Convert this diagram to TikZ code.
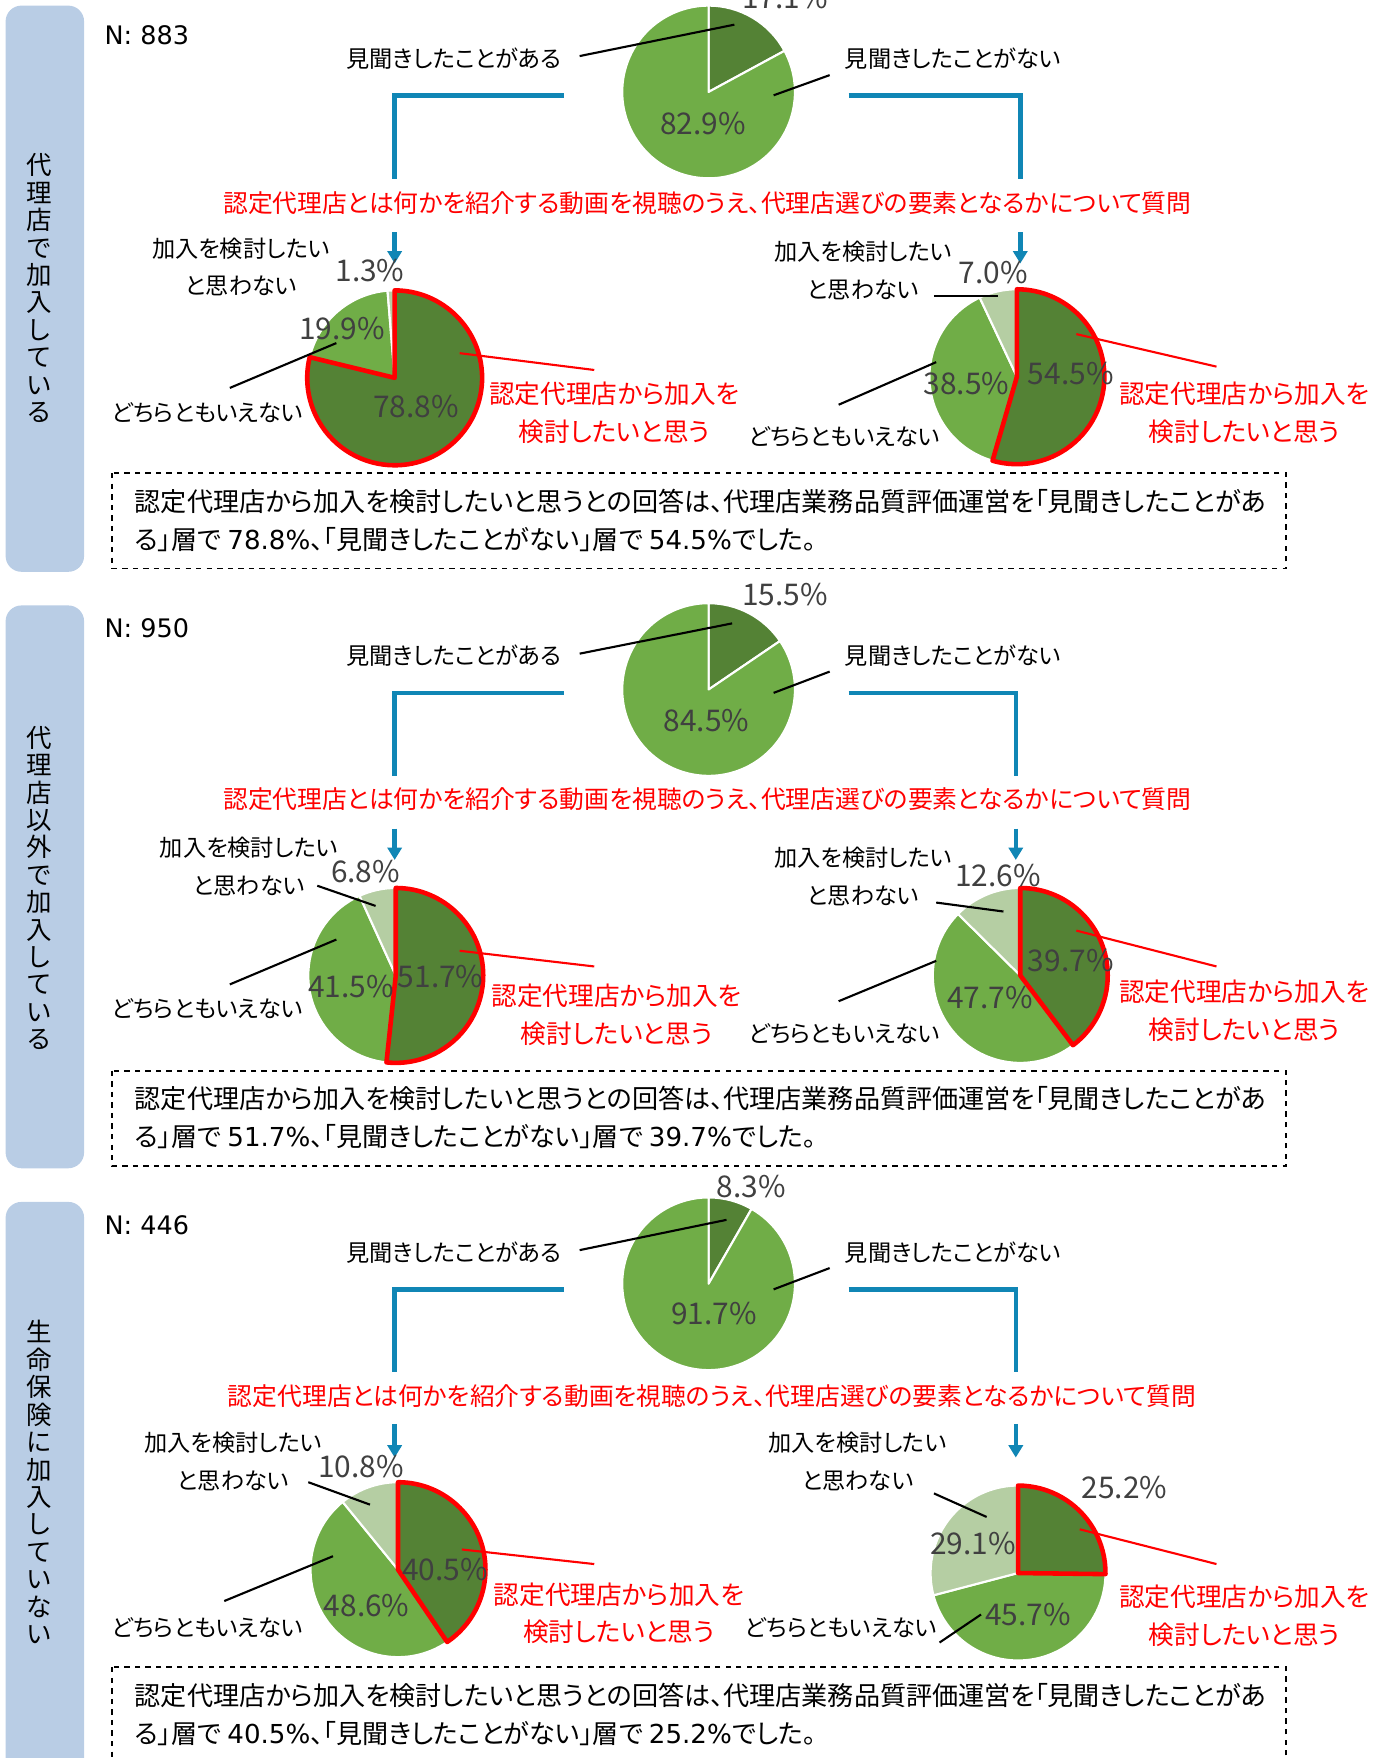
\documentclass[tikz,border=0pt]{standalone}
\usepackage{fontspec}
\setmainfont{Noto Sans CJK JP}[RawFeature=+palt]
\newfontfamily\numfont{DejaVu Sans}
\usetikzlibrary{arrows.meta}

\definecolor{sidefill}{RGB}{185,205,229}
\definecolor{dkgreen}{RGB}{84,130,53}
\definecolor{mdgreen}{RGB}{112,173,71}
\definecolor{ltgreen}{RGB}{181,206,163}
\definecolor{flowblue}{RGB}{16,134,181}
\definecolor{pctgray}{RGB}{64,64,64}

\tikzset{
  lbl/.style={inner sep=0pt, align=center, font=\fontsize{13.2}{21.5}\selectfont},
  redlbl/.style={lbl, text=red, font=\fontsize{14.6}{21.5}\selectfont},
  pct/.style={inner sep=0pt, text=pctgray, font=\fontsize{17}{19}\selectfont},
  vtext/.style={inner sep=0pt, align=center, font=\fontsize{14.5}{15.6}\selectfont},
  nlabel/.style={inner sep=0pt, anchor=west, font=\numfont\fontsize{14.5}{17}\selectfont},
  question/.style={inner sep=0pt, text=red, font=\fontsize{14.1}{17}\selectfont},
  sumtext/.style={inner sep=0pt, anchor=west, align=left, font=\fontsize{14.85}{21.7}\selectfont},
  summary/.style={draw, dashed, line width=0.9pt},
  leader/.style={line width=1.2pt},
  redleader/.style={red, line width=1.2pt},
  flow/.style={flowblue, line width=2.6pt},
  flowarrow/.style={flow, -{Triangle[width=8pt,length=7pt]}},
  hilite/.style={red, line width=2.6pt, line join=round},
}

% one slice of a pie, from #3 % to #4 %, clockwise from the top
\newcommand{\pieslice}[5]{%
  \fill[#5, draw=white, line width=1.2pt, line join=round]
    (#1) -- ++({3.6*#3-90}:#2) arc[start angle={3.6*#3-90}, end angle={3.6*#4-90}, radius=#2] -- cycle;}
% red outline of the first slice
\newcommand{\pieedge}[3]{%
  \draw[hilite] (#1) -- ++(-90:#2) arc[start angle=-90, end angle={3.6*#3-90}, radius=#2] -- cycle;}

\begin{document}
\begin{tikzpicture}[x=0.022418cm, y=-0.022418cm]
\useasboundingbox (0,0) rectangle (1241,1568);

% ---------- panel 1 ----------
\begin{scope}
  % side tab
  \fill[sidefill, rounded corners=9pt] (5,5) rectangle (75,510);
  \node[vtext] (a-title) at (35,257) {代\\理\\店\\で\\加\\入\\し\\て\\い\\る};
  \node[nlabel] (a-n) at (93,31) {N: 883};

  % top pie
  \coordinate (a-top) at (632,82);
  \pieslice{a-top}{77}{0}{17.1}{dkgreen}
  \pieslice{a-top}{77}{17.1}{100}{mdgreen}
  \node[pct] (a-top1) at (700,-2) {17.1\%};
  \node[pct] (a-top2) at (627,110) {82.9\%};
  \node[lbl] (a-yes) at (405,52) {見聞きしたことがある};
  \node[lbl] (a-no) at (850,52) {見聞きしたことがない};
  \coordinate (a-yes-s) at (517,50); \coordinate (a-yes-e) at (655,22);
  \coordinate (a-no-s) at (740,67);  \coordinate (a-no-e) at (690,85);
  \draw[leader] (a-yes-s) -- (a-yes-e);
  \draw[leader] (a-no-s) -- (a-no-e);

  % flow down to both groups
  \node[question] (a-q) at (631,181) {認定代理店とは何かを紹介する動画を視聴のうえ、代理店選びの要素となるかについて質問};
  \coordinate (a-fl0) at (503,85); \coordinate (a-fl1) at (352,160);
  \coordinate (a-fl2) at (352,207); \coordinate (a-fl3) at (352,235);
  \coordinate (a-fr0) at (757,85); \coordinate (a-fr1) at (910,160);
  \coordinate (a-fr2) at (910,207); \coordinate (a-fr3) at (910,235);
  \draw[flow] (a-fl0) -| (a-fl1);
  \draw[flowarrow] (a-fl2) -- (a-fl3);
  \draw[flow] (a-fr0) -| (a-fr1);
  \draw[flowarrow] (a-fr2) -- (a-fr3);

  % left pie (見聞きしたことがある)
  \coordinate (a-lp) at (352,337);
  \pieslice{a-lp}{78}{0}{78.8}{dkgreen}
  \pieslice{a-lp}{78}{78.8}{98.7}{mdgreen}
  \pieslice{a-lp}{78}{98.7}{100}{ltgreen}
  \pieedge{a-lp}{78}{78.8}
  \node[pct] (a-lp1) at (371,363) {78.8\%};
  \node[pct] (a-lp2) at (305,293) {19.9\%};
  \node[pct] (a-lp3) at (330,241) {1.3\%};
  \node[lbl] (a-lp-no) at (215,238) {加入を検討したい\\と思わない};
  \node[lbl] (a-lp-mid) at (185,368) {どちらともいえない};
  \node[redlbl] (a-lp-yes) at (548,368) {認定代理店から加入を\\検討したいと思う};
  \coordinate (a-lm-s) at (205,346); \coordinate (a-lm-e) at (300,306);
  \coordinate (a-ly-s) at (410,315); \coordinate (a-ly-e) at (530,330);
  \draw[leader] (a-lm-s) -- (a-lm-e);
  \draw[redleader] (a-ly-s) -- (a-ly-e);

  % right pie (見聞きしたことがない)
  \coordinate (a-rp) at (907,336);
  \pieslice{a-rp}{78}{0}{54.5}{dkgreen}
  \pieslice{a-rp}{78}{54.5}{93}{mdgreen}
  \pieslice{a-rp}{78}{93}{100}{ltgreen}
  \pieedge{a-rp}{78}{54.5}
  \node[pct] (a-rp1) at (955,333) {54.5\%};
  \node[pct] (a-rp2) at (862,342) {38.5\%};
  \node[pct] (a-rp3) at (886,243) {7.0\%};
  \node[lbl] (a-rp-no) at (770,241.5) {加入を検討したい\\と思わない};
  \node[lbl] (a-rp-mid) at (753,390) {どちらともいえない};
  \node[redlbl] (a-rp-yes) at (1110,368) {認定代理店から加入を\\検討したいと思う};
  \coordinate (a-rn-s) at (833,264); \coordinate (a-rn-e) at (890,264);
  \coordinate (a-rm-s) at (748,361); \coordinate (a-rm-e) at (835,323);
  \coordinate (a-ry-s) at (960,298); \coordinate (a-ry-e) at (1085,327);
  \draw[leader] (a-rn-s) -- (a-rn-e);
  \draw[leader] (a-rm-s) -- (a-rm-e);
  \draw[redleader] (a-ry-s) -- (a-ry-e);

  % summary
  \draw[summary] (100,422) rectangle (1147,507);
  \node[sumtext] (a-sum) at (120,464) {認定代理店から加入を検討したいと思うとの回答は、代理店業務品質評価運営を「見聞きしたことがあ\\る」層で {\numfont 78.8\%}、「見聞きしたことがない」層で {\numfont 54.5\%}でした。};
\end{scope}

% ---------- panel 2 ----------
\begin{scope}[shift={(0,532)}]
  % side tab
  \fill[sidefill, rounded corners=9pt] (5,8) rectangle (75,510);
  \node[vtext] (b-title) at (35,260) {代\\理\\店\\以\\外\\で\\加\\入\\し\\て\\い\\る};
  \node[nlabel] (b-n) at (93,28) {N: 950};

  % top pie
  \coordinate (b-top) at (632,83);
  \pieslice{b-top}{77}{0}{15.5}{dkgreen}
  \pieslice{b-top}{77}{15.5}{100}{mdgreen}
  \node[pct] (b-top1) at (700,-2) {15.5\%};
  \node[pct] (b-top2) at (630,111) {84.5\%};
  \node[lbl] (b-yes) at (405,53) {見聞きしたことがある};
  \node[lbl] (b-no) at (850,53) {見聞きしたことがない};
  \coordinate (b-yes-s) at (517,51); \coordinate (b-yes-e) at (653,24);
  \coordinate (b-no-s) at (740,67);  \coordinate (b-no-e) at (690,86);
  \draw[leader] (b-yes-s) -- (b-yes-e);
  \draw[leader] (b-no-s) -- (b-no-e);

  % flow down to both groups
  \node[question] (b-q) at (631,181) {認定代理店とは何かを紹介する動画を視聴のうえ、代理店選びの要素となるかについて質問};
  \coordinate (b-fl0) at (503,86); \coordinate (b-fl1) at (352,160);
  \coordinate (b-fl2) at (352,207); \coordinate (b-fl3) at (352,235);
  \coordinate (b-fr0) at (757,86); \coordinate (b-fr1) at (906,160);
  \coordinate (b-fr2) at (906,207); \coordinate (b-fr3) at (906,235);
  \draw[flow] (b-fl0) -| (b-fl1);
  \draw[flowarrow] (b-fl2) -- (b-fl3);
  \draw[flow] (b-fr0) -| (b-fr1);
  \draw[flowarrow] (b-fr2) -- (b-fr3);

  % left pie
  \coordinate (b-lp) at (353,338);
  \pieslice{b-lp}{78}{0}{51.7}{dkgreen}
  \pieslice{b-lp}{78}{51.7}{93.2}{mdgreen}
  \pieslice{b-lp}{78}{93.2}{100}{ltgreen}
  \pieedge{b-lp}{78}{51.7}
  \node[pct] (b-lp1) at (393,339) {51.7\%};
  \node[pct] (b-lp2) at (313,348) {41.5\%};
  \node[pct] (b-lp3) at (326,245) {6.8\%};
  \node[lbl] (b-lp-no) at (222,241) {加入を検討したい\\と思わない};
  \node[lbl] (b-lp-mid) at (185,368) {どちらともいえない};
  \node[redlbl] (b-lp-yes) at (550,373) {認定代理店から加入を\\検討したいと思う};
  \coordinate (b-ln-s) at (283,258); \coordinate (b-ln-e) at (335,276);
  \coordinate (b-lm-s) at (205,346); \coordinate (b-lm-e) at (300,306);
  \coordinate (b-ly-s) at (410,316); \coordinate (b-ly-e) at (530,330);
  \draw[leader] (b-ln-s) -- (b-ln-e);
  \draw[leader] (b-lm-s) -- (b-lm-e);
  \draw[redleader] (b-ly-s) -- (b-ly-e);

  % right pie
  \coordinate (b-rp) at (910,338);
  \pieslice{b-rp}{78}{0}{39.7}{dkgreen}
  \pieslice{b-rp}{78}{39.7}{87.4}{mdgreen}
  \pieslice{b-rp}{78}{87.4}{100}{ltgreen}
  \pieedge{b-rp}{78}{39.7}
  \node[pct] (b-rp1) at (955,325) {39.7\%};
  \node[pct] (b-rp2) at (883,358) {47.7\%};
  \node[pct] (b-rp3) at (890,249) {12.6\%};
  \node[lbl] (b-rp-no) at (770,249.5) {加入を検討したい\\と思わない};
  \node[lbl] (b-rp-mid) at (753,390) {どちらともいえない};
  \node[redlbl] (b-rp-yes) at (1110,369.5) {認定代理店から加入を\\検討したいと思う};
  \coordinate (b-rn-s) at (835,273); \coordinate (b-rn-e) at (895,281);
  \coordinate (b-rm-s) at (748,361); \coordinate (b-rm-e) at (835,325);
  \coordinate (b-ry-s) at (960,298); \coordinate (b-ry-e) at (1085,330);
  \draw[leader] (b-rn-s) -- (b-rn-e);
  \draw[leader] (b-rm-s) -- (b-rm-e);
  \draw[redleader] (b-ry-s) -- (b-ry-e);

  % summary
  \draw[summary] (100,423) rectangle (1147,508);
  \node[sumtext] (b-sum) at (120,465) {認定代理店から加入を検討したいと思うとの回答は、代理店業務品質評価運営を「見聞きしたことがあ\\る」層で {\numfont 51.7\%}、「見聞きしたことがない」層で {\numfont 39.7\%}でした。};
\end{scope}

% ---------- panel 3 ----------
\begin{scope}[shift={(0,1064)}]
  % side tab
  \fill[sidefill, rounded corners=9pt] (5,8) rectangle (75,520);
  \node[vtext] (c-title) at (35,258) {生\\命\\保\\険\\に\\加\\入\\し\\て\\い\\な\\い};
  \node[nlabel] (c-n) at (93,29) {N: 446};

  % top pie
  \coordinate (c-top) at (632,81);
  \pieslice{c-top}{77}{0}{8.3}{dkgreen}
  \pieslice{c-top}{77}{8.3}{100}{mdgreen}
  \node[pct] (c-top1) at (670,-6) {8.3\%};
  \node[pct] (c-top2) at (637,108) {91.7\%};
  \node[lbl] (c-yes) at (405,53) {見聞きしたことがある};
  \node[lbl] (c-no) at (850,53) {見聞きしたことがない};
  \coordinate (c-yes-s) at (517,51); \coordinate (c-yes-e) at (648,24);
  \coordinate (c-no-s) at (740,67);  \coordinate (c-no-e) at (690,86);
  \draw[leader] (c-yes-s) -- (c-yes-e);
  \draw[leader] (c-no-s) -- (c-no-e);

  % flow down to both groups
  \node[question] (c-q) at (635,181) {認定代理店とは何かを紹介する動画を視聴のうえ、代理店選びの要素となるかについて質問};
  \coordinate (c-fl0) at (503,86); \coordinate (c-fl1) at (352,160);
  \coordinate (c-fl2) at (352,206); \coordinate (c-fl3) at (352,236);
  \coordinate (c-fr0) at (757,86); \coordinate (c-fr1) at (906,160);
  \coordinate (c-fr2) at (906,206); \coordinate (c-fr3) at (906,236);
  \draw[flow] (c-fl0) -| (c-fl1);
  \draw[flowarrow] (c-fl2) -- (c-fl3);
  \draw[flow] (c-fr0) -| (c-fr1);
  \draw[flowarrow] (c-fr2) -- (c-fr3);

  % left pie
  \coordinate (c-lp) at (355,336);
  \pieslice{c-lp}{78}{0}{40.5}{dkgreen}
  \pieslice{c-lp}{78}{40.5}{89.1}{mdgreen}
  \pieslice{c-lp}{78}{89.1}{100}{ltgreen}
  \pieedge{c-lp}{78}{40.5}
  \node[pct] (c-lp1) at (397,336) {40.5\%};
  \node[pct] (c-lp2) at (327,368) {48.6\%};
  \node[pct] (c-lp3) at (322,244) {10.8\%};
  \node[lbl] (c-lp-no) at (208,239.5) {加入を検討したい\\と思わない};
  \node[lbl] (c-lp-mid) at (185,388) {どちらともいえない};
  \node[redlbl] (c-lp-yes) at (552,375) {認定代理店から加入を\\検討したいと思う};
  \coordinate (c-ln-s) at (275,258); \coordinate (c-ln-e) at (330,278);
  \coordinate (c-lm-s) at (200,364); \coordinate (c-lm-e) at (297,324);
  \coordinate (c-ly-s) at (412,318); \coordinate (c-ly-e) at (530,331);
  \draw[leader] (c-ln-s) -- (c-ln-e);
  \draw[leader] (c-lm-s) -- (c-lm-e);
  \draw[redleader] (c-ly-s) -- (c-ly-e);

  % right pie
  \coordinate (c-rp) at (908,339);
  \pieslice{c-rp}{78}{0}{25.2}{dkgreen}
  \pieslice{c-rp}{78}{25.2}{70.9}{mdgreen}
  \pieslice{c-rp}{78}{70.9}{100}{ltgreen}
  \pieedge{c-rp}{78}{25.2}
  \node[pct] (c-rp1) at (1003,263) {25.2\%};
  \node[pct] (c-rp2) at (917,376) {45.7\%};
  \node[pct] (c-rp3) at (868,313) {29.1\%};
  \node[lbl] (c-rp-no) at (765,239.5) {加入を検討したい\\と思わない};
  \node[lbl] (c-rp-mid) at (750,388) {どちらともいえない};
  \node[redlbl] (c-rp-yes) at (1110,377.5) {認定代理店から加入を\\検討したいと思う};
  \coordinate (c-rn-s) at (833,268); \coordinate (c-rn-e) at (880,289);
  \coordinate (c-rm-s) at (838,401); \coordinate (c-rm-e) at (875,376);
  \coordinate (c-ry-s) at (963,300); \coordinate (c-ry-e) at (1085,331);
  \draw[leader] (c-rn-s) -- (c-rn-e);
  \draw[leader] (c-rm-s) -- (c-rm-e);
  \draw[redleader] (c-ry-s) -- (c-ry-e);

  % summary
  \draw[summary] (100,423) rectangle (1147,508);
  \node[sumtext] (c-sum) at (120,465) {認定代理店から加入を検討したいと思うとの回答は、代理店業務品質評価運営を「見聞きしたことがあ\\る」層で {\numfont 40.5\%}、「見聞きしたことがない」層で {\numfont 25.2\%}でした。};
\end{scope}

\end{tikzpicture}
\end{document}
